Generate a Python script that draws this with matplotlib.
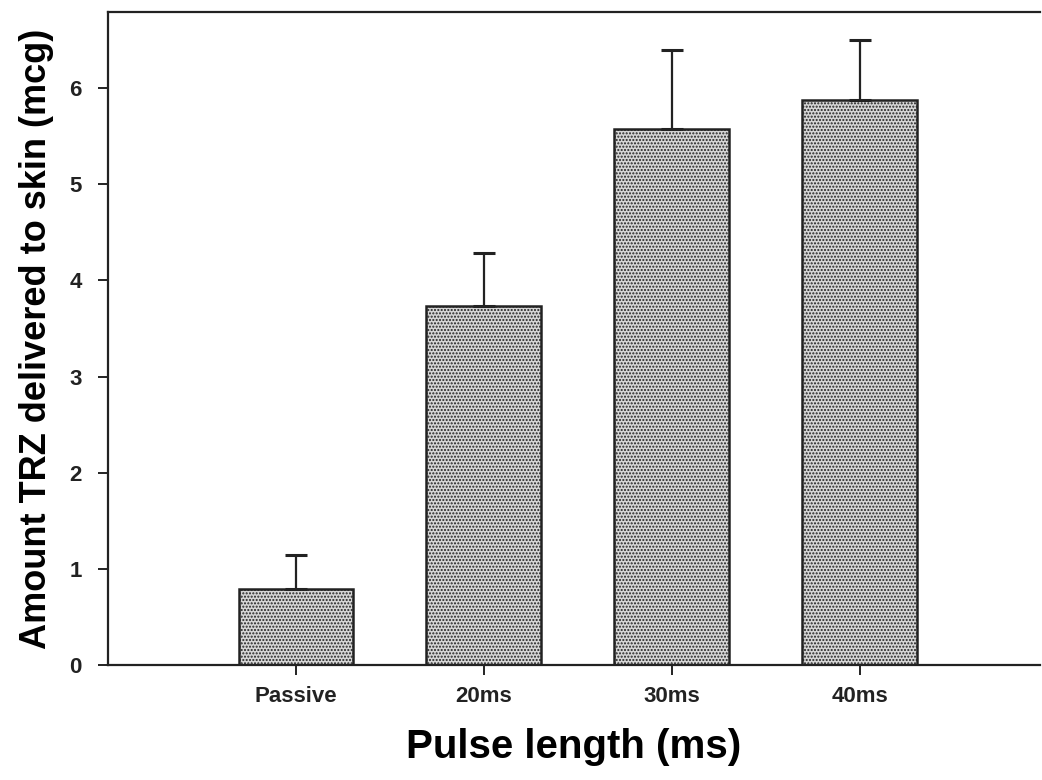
#!/usr/bin/env python3
import numpy as np
import matplotlib
matplotlib.use("Agg")
import matplotlib.pyplot as plt

plt.rcParams['font.family'] = ['Liberation Sans', 'DejaVu Sans']
plt.rcParams['hatch.color'] = '#7a7a7a'
plt.rcParams['hatch.linewidth'] = 1.0

categories = ["Passive", "20ms", "30ms", "40ms"]
means = [0.79, 3.73, 5.57, 5.88]
errors = [0.35, 0.55, 0.82, 0.62]

fig = plt.figure(figsize=(10.42, 7.8), dpi=100)
ax = fig.add_axes([0.1036, 0.1474, 0.8944, 0.8372])

x = np.arange(len(categories))
ax.bar(x, means, width=0.61, color='#d6d6d6', edgecolor='#222222',
       linewidth=1.8, hatch='.....', zorder=2)
ax.errorbar(x, means, yerr=[np.zeros(len(errors)), errors], fmt='none',
            ecolor='#222222', elinewidth=1.6, capsize=8, capthick=2.2, zorder=3)

ax.set_xlim(-1.0, 3.96)
ax.set_ylim(0, 6.79)
ax.set_yticks(range(0, 7))
ax.set_xticks(x)
ax.set_xticklabels(categories)

for s in ['left', 'bottom', 'top']:
    ax.spines[s].set_linewidth(1.6)
    ax.spines[s].set_color('#222222')
ax.spines['right'].set_visible(False)

ax.tick_params(axis='both', direction='out', length=7, width=1.4,
               colors='#222222', labelsize=16)
ax.tick_params(axis='x', pad=8)
ax.tick_params(axis='y', pad=12)
for lab in ax.get_xticklabels() + ax.get_yticklabels():
    lab.set_fontweight('bold')

ax.set_ylabel("Amount TRZ delivered to skin (mcg)", fontsize=26,
              fontweight='bold', labelpad=11)
ax.set_xlabel("Pulse length (ms)", fontsize=29, fontweight='bold', labelpad=15)

fig.savefig("out.png", dpi=100)
